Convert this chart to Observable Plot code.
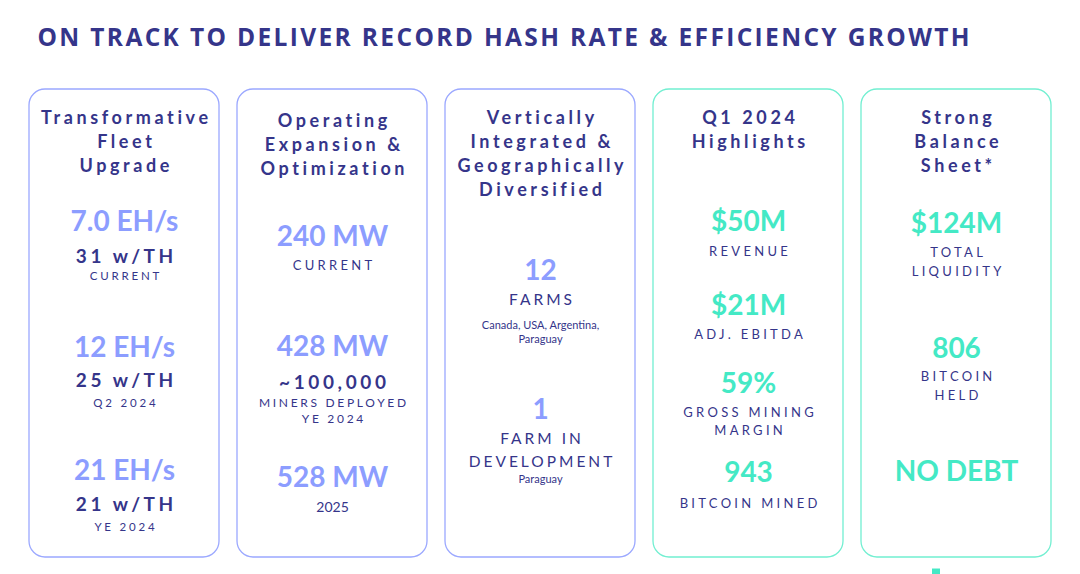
<!DOCTYPE html>
<html>
<head>
<meta charset="utf-8">
<script src="https://cdn.jsdelivr.net/npm/d3@7"></script>
<script src="https://cdn.jsdelivr.net/npm/@observablehq/plot@0.6"></script>
<style>
  html, body { margin: 0; padding: 0; background: #ffffff; }
  #chart svg { display: block; }
</style>
</head>
<body>
<div id="chart"></div>
<script>
// ---------- data ----------
const pageTitle = "ON TRACK TO DELIVER RECORD HASH RATE & EFFICIENCY GROWTH";

const cardIds = ["fleet", "expansion", "integrated", "q1", "balance"];
const cardThemes = ["blue", "blue", "blue", "teal", "teal"];
const cardHeadings = [
  ["Transformative", "Fleet", "Upgrade"],
  ["Operating", "Expansion &", "Optimization"],
  ["Vertically", "Integrated &", "Geographically", "Diversified"],
  ["Q1 2024", "Highlights"],
  ["Strong", "Balance", "Sheet*"]
];

// card 1: hash rate / efficiency milestones
const hashRates = ["7.0 EH/s", "12 EH/s", "21 EH/s"];
const efficiencies = ["31 w/TH", "25 w/TH", "21 w/TH"];
const hashPeriods = ["CURRENT", "Q2 2024", "YE 2024"];

// card 2: capacity
const capacities = ["240 MW", "428 MW", "528 MW"];
const capacityNotes = [["CURRENT"], ["~100,000", "MINERS DEPLOYED", "YE 2024"], ["2025"]];

// card 3: farms
const farmCounts = ["12", "1"];
const farmLabels = [["FARMS"], ["FARM IN", "DEVELOPMENT"]];
const farmPlaces = [["Canada, USA, Argentina,", "Paraguay"], ["Paraguay"]];

// card 4: Q1 2024 highlights
const highlightValues = ["$50M", "$21M", "59%", "943"];
const highlightLabels = [["REVENUE"], ["ADJ. EBITDA"], ["GROSS MINING", "MARGIN"], ["BITCOIN MINED"]];

// card 5: balance sheet
const balanceValues = ["$124M", "806", "NO DEBT"];
const balanceLabels = [["TOTAL", "LIQUIDITY"], ["BITCOIN", "HELD"], []];

// ---------- styles ----------
const navy = "#35358a";
const periwinkle = "#8c9dff";
const teal = "#44e9c5";
const borderBlue = "#9ba8ff";
const borderTeal = "#72efd1";

// ---------- layout (vertical positions in px from top) ----------
const W = 1080, H = 574;
const cardTop = 89, cardBottom = 557;
const headingTop = 118, headingStep = 24;

const items = [];
function add(card, text, kind, y) { items.push({card, text, kind, y}); }

// card 1
const c1 = [[222, 256, 276], [348, 380, 403], [471, 504, 527]];
hashRates.forEach((v, i) => {
  add("fleet", v, "valueBlue", c1[i][0]);
  add("fleet", efficiencies[i], "sub", c1[i][1]);
  add("fleet", hashPeriods[i], "labelSmall", c1[i][2]);
});
// card 2
const c2 = [[237, [265]], [347, [382, 403, 419]], [478, [507]]];
const c2kinds = [["label"], ["sub", "labelMid", "labelMid"], ["note"]];
capacities.forEach((v, i) => {
  add("expansion", v, "valueBlue", c2[i][0]);
  capacityNotes[i].forEach((t, j) => add("expansion", t, c2kinds[i][j], c2[i][1][j]));
});
// card 3
const c3 = [[271, [300], [325, 339]], [410, [439, 462], [479]]];
farmCounts.forEach((v, i) => {
  add("integrated", v, "valueBlue", c3[i][0]);
  farmLabels[i].forEach((t, j) => add("integrated", t, "labelBig", c3[i][1][j]));
  farmPlaces[i].forEach((t, j) => add("integrated", t, "noteSmall", c3[i][2][j]));
});
// card 4
const c4 = [[222, [251]], [306, [334]], [384, [412, 430]], [473, [503]]];
highlightValues.forEach((v, i) => {
  add("q1", v, "valueTeal", c4[i][0]);
  highlightLabels[i].forEach((t, j) => add("q1", t, "label", c4[i][1][j]));
});
// card 5
const c5 = [[224, [252, 271]], [349, [376, 395]], [472, []]];
balanceValues.forEach((v, i) => {
  add("balance", v, "valueTeal", c5[i][0]);
  balanceLabels[i].forEach((t, j) => add("balance", t, "label", c5[i][1][j]));
});

const headings = [];
cardHeadings.forEach((lines, i) => {
  const offset = i === 1 ? 3 : 0;
  lines.forEach((t, j) => headings.push({card: cardIds[i], text: t, y: headingTop + offset + j * headingStep}));
});

const cards = cardIds.map((id, i) => ({id, theme: cardThemes[i]}));

const kinds = {
  valueBlue: {size: 28, weight: 700, fill: periwinkle, ls: 0},
  valueTeal: {size: 28, weight: 700, fill: teal, ls: 0},
  sub: {size: 19, weight: 700, fill: navy, ls: 3.6},
  labelSmall: {size: 11.5, weight: 400, fill: navy, ls: 2.8},
  label: {size: 13, weight: 400, fill: navy, ls: 3.3},
  labelMid: {size: 12, weight: 400, fill: navy, ls: 2.7},
  labelBig: {size: 15.5, weight: 400, fill: navy, ls: 3},
  note: {size: 14, weight: 400, fill: navy, ls: 0},
  noteSmall: {size: 11, weight: 400, fill: navy, ls: 0}
};

const font = "Lato, 'Open Sans', sans-serif";
const headingLs = 3.6;

const marks = [
  Plot.text([pageTitle], {
    frameAnchor: "top-left", dx: 37, dy: 38, text: d => d,
    textAnchor: "start", lineAnchor: "middle",
    fontSize: 24.5, fontWeight: 700, fill: navy,
    fontFamily: "'Open Sans', sans-serif", ariaDescription: "ls-title"
  }),
  Plot.barY(cards, {
    x: "id", y1: cardTop, y2: cardBottom, rx: 16, ry: 16,
    fill: "white",
    stroke: d => d.theme === "teal" ? borderTeal : borderBlue,
    strokeWidth: 1.3
  }),
  Plot.text(headings, {
    x: "card", y: "y", text: "text", textAnchor: "middle", lineAnchor: "middle",
    fontSize: 18, fontWeight: 700, fill: navy, fontFamily: font,
    dx: headingLs / 2, ariaDescription: "ls-heading"
  }),
  ...Object.entries(kinds).map(([k, s]) => Plot.text(items.filter(d => d.kind === k), {
    x: "card", y: "y", text: "text", textAnchor: "middle", lineAnchor: "middle",
    fontSize: s.size, fontWeight: s.weight, fill: s.fill, fontFamily: font,
    dx: s.ls / 2, ariaDescription: "ls-" + k
  })),
  Plot.dot([0], {
    frameAnchor: "bottom-left", dx: 935.5, dy: -2, symbol: "square", r: 4.5,
    fill: teal
  })
];

const svg = Plot.plot({
  width: W, height: H,
  margin: 0,
  style: {background: "white", overflow: "visible"},
  x: {type: "band", domain: cardIds, range: [28, 1053], paddingInner: 0.0863, paddingOuter: 0, axis: null},
  y: {type: "linear", domain: [0, H], range: [0, H], axis: null},
  marks
});

const spacing = Object.assign({"ls-title": 2.35, "ls-heading": headingLs},
  Object.fromEntries(Object.entries(kinds).map(([k, s]) => ["ls-" + k, s.ls])));
d3.select(svg).selectAll("g[aria-description]").each(function () {
  const key = this.getAttribute("aria-description");
  if (key in spacing) this.style.letterSpacing = spacing[key] + "px";
});

document.getElementById("chart").appendChild(svg);
</script>
</body>
</html>
